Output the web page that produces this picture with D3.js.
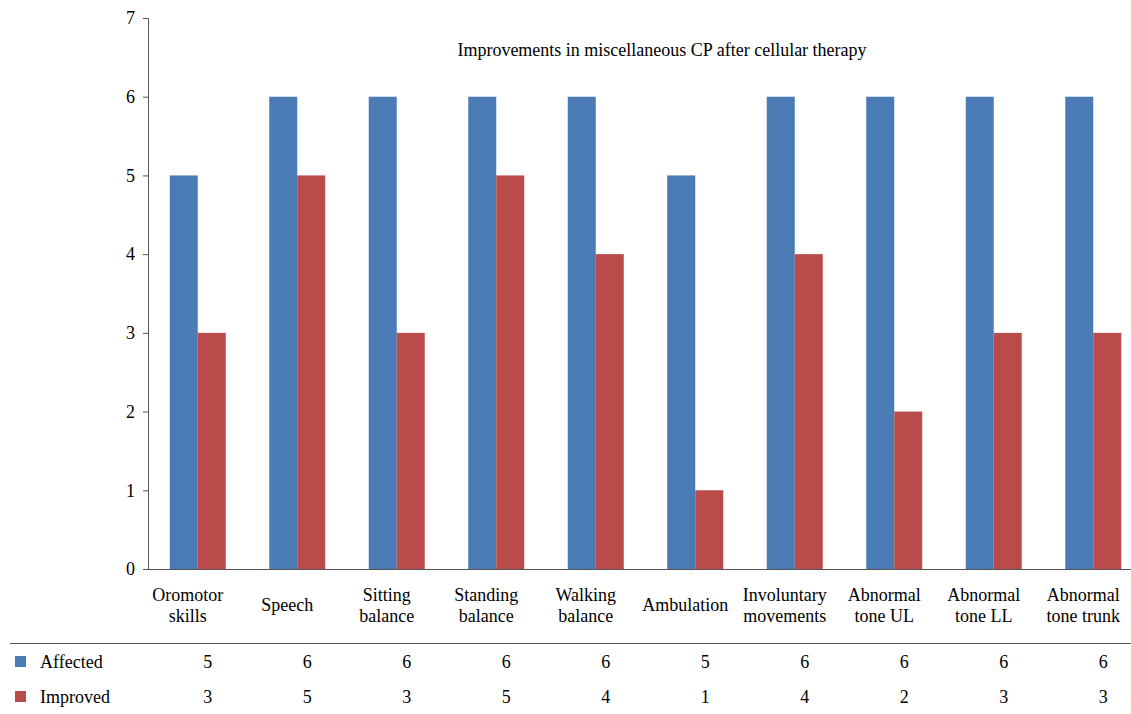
<!DOCTYPE html>
<html><head><meta charset="utf-8">
<script src="https://cdn.jsdelivr.net/npm/d3@7"></script>
<style>body{margin:0;background:#fff}</style>
</head><body><div id="chart"></div>
<script>
var categories = [["Oromotor","skills"],["Speech"],["Sitting","balance"],["Standing","balance"],["Walking","balance"],["Ambulation"],["Involuntary","movements"],["Abnormal","tone UL"],["Abnormal","tone LL"],["Abnormal","tone trunk"]];
var affected = [5,6,6,6,6,5,6,6,6,6];
var improved = [3,5,3,5,4,1,4,2,3,3];
var seriesNames = ["Affected","Improved"];
var colors = ["#4a7bb5","#b94c4a"];
var yTicks = [0,1,2,3,4,5,6,7];

var width = 1131, height = 714;
var font = "'Liberation Serif', serif";
var svg = d3.select("#chart").append("svg").attr("width", width).attr("height", height)
  .style("font-family", font);

var x = d3.scaleBand().domain(d3.range(categories.length)).range([148, 1143]);
var y = d3.scaleLinear().domain([0,7]).range([569, 18]);
var bw = 28;

svg.append("text").attr("x", 662).attr("y", 56).attr("text-anchor","middle")
  .attr("font-size", 18).text("Improvements in miscellaneous CP after cellular therapy");

var series = [affected, improved];
series.forEach(function(vals, s){
  svg.append("g").attr("fill", colors[s]).selectAll("rect").data(vals).join("rect")
    .attr("x", (d,i) => x(i) + x.bandwidth()/2 - bw + s*bw)
    .attr("width", bw)
    .attr("y", d => y(d))
    .attr("height", d => y(0) - y(d));
});

var ya = svg.append("g").attr("transform","translate(148,0)")
  .call(d3.axisLeft(y).tickValues(yTicks).tickFormat(d3.format("d")).tickSize(5).tickPadding(8));
ya.selectAll("text").attr("font-size", 18).attr("font-family", font).attr("fill","#000");
ya.selectAll("line,path").attr("stroke","#555");

svg.append("line").attr("x1",148).attr("x2",1131).attr("y1",569.5).attr("y2",569.5).attr("stroke","#555");

var lab = svg.append("g").attr("font-size", 18).attr("text-anchor","middle");
categories.forEach(function(c, i){
  var cx = x(i) + x.bandwidth()/2 - 10;
  var t = lab.append("text").attr("x", cx).attr("y", c.length == 1 ? 611 : 601);
  c.forEach(function(l, k){ t.append("tspan").attr("x", cx).attr("dy", k ? 21 : 0).text(l); });
});

svg.append("line").attr("x1",10).attr("x2",1131).attr("y1",643.5).attr("y2",643.5).attr("stroke","#555");

series.forEach(function(vals, s){
  var ry = 668 + s*35;
  svg.append("rect").attr("x",15).attr("y",ry-12).attr("width",11).attr("height",11).attr("fill",colors[s]);
  svg.append("text").attr("x",40).attr("y",ry).attr("font-size",18).text(seriesNames[s]);
  svg.append("g").attr("font-size",18).attr("text-anchor","middle").selectAll("text").data(vals).join("text")
    .attr("x",(d,i)=> x(i) + x.bandwidth()/2 + 10).attr("y", ry).text(d=>d);
});
</script></body></html>
